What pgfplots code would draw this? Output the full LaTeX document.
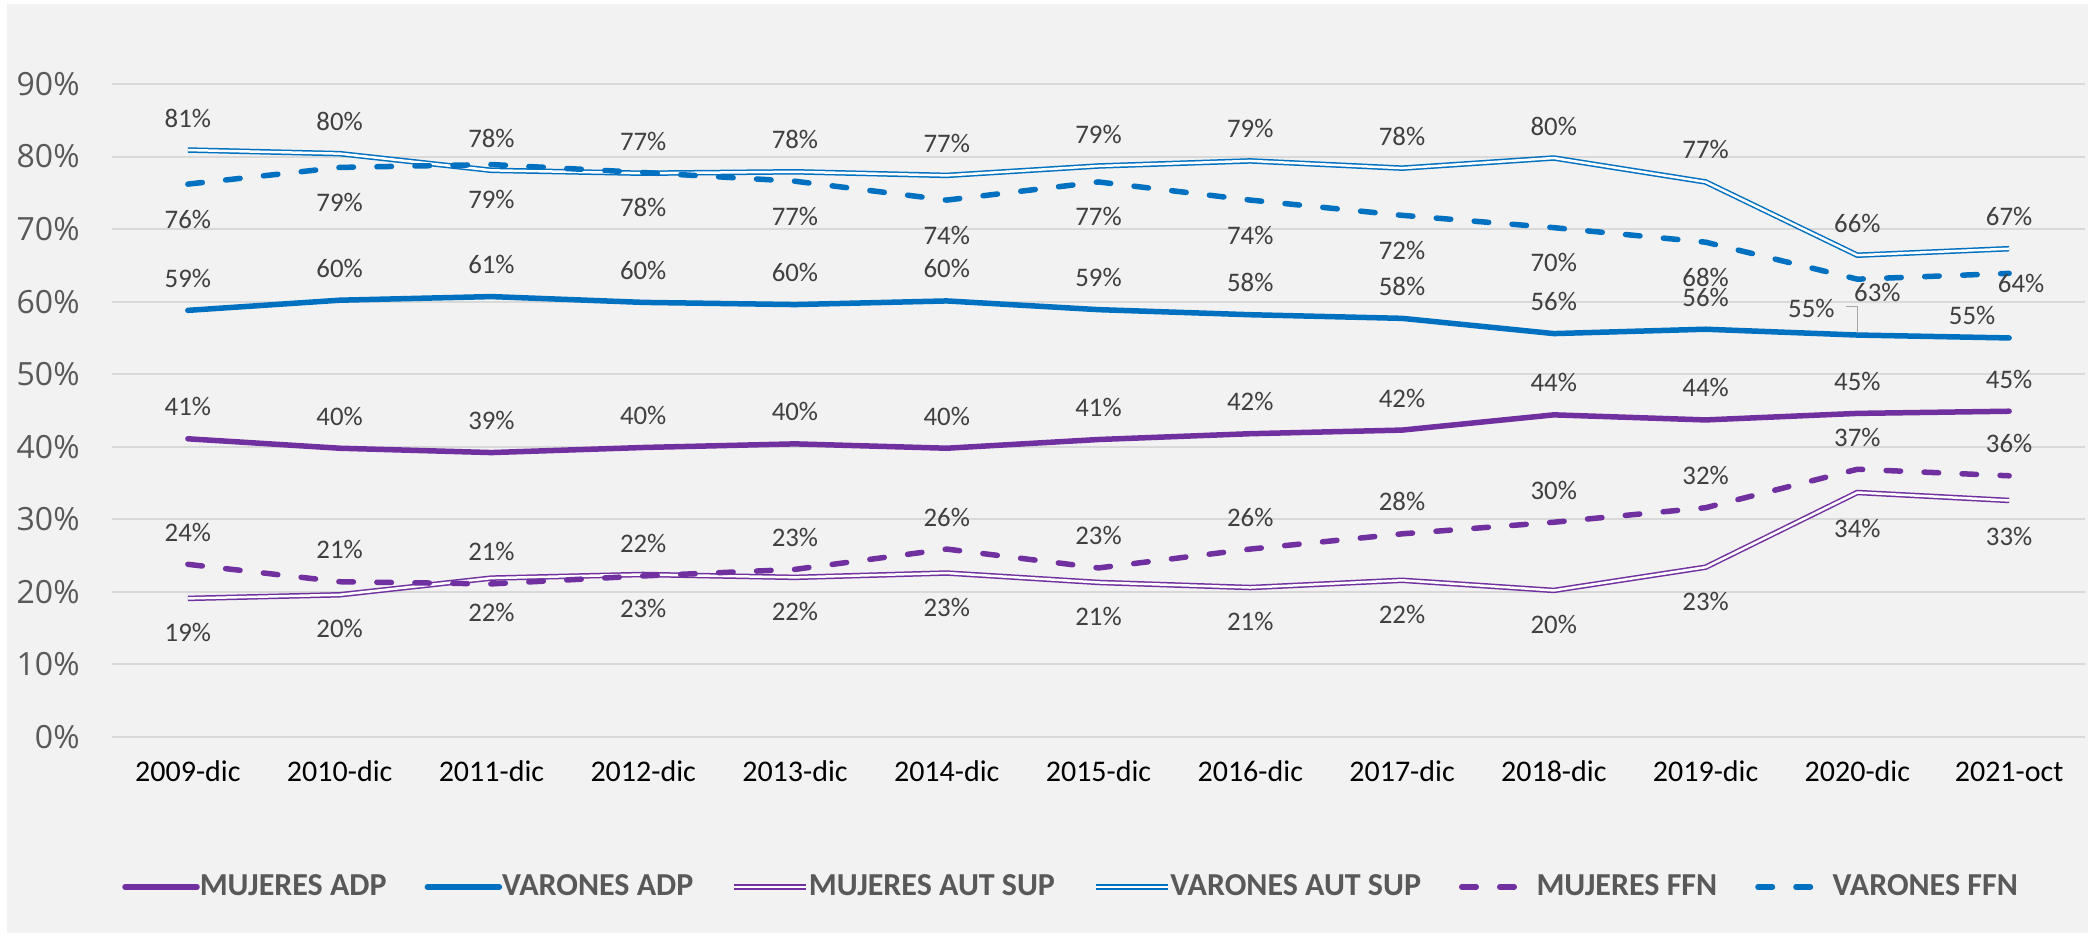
\documentclass[border=0pt]{standalone}
\usepackage{pgfplots}
\pgfplotsset{compat=1.18}
\usepackage{pgfplotstable}
\usepackage{fontspec}
\setmainfont{Carlito}
\newfontfamily\osans{Open Sans}
\definecolor{mpurple}{HTML}{7030A0}
\definecolor{mblue}{HTML}{0070C0}
\definecolor{bgc}{HTML}{F2F2F2}
\definecolor{gridc}{HTML}{D9D9D9}
\definecolor{txtg}{HTML}{595959}
\definecolor{labg}{HTML}{404040}
\definecolor{leadc}{HTML}{A6A6A6}

\pgfplotstableread{
x y lab dx dy
0 41.1 41 0 16
1 39.8 40 0 16
2 39.2 39 0 16
3 39.9 40 0 16
4 40.4 40 0 16
5 39.8 40 0 16
6 41.0 41 0 16
7 41.8 42 0 16
8 42.3 42 0 16
9 44.4 44 0 16
10 43.7 44 0 16
11 44.6 45 0 16
12 44.9 45 0 16
}\mujadp

\pgfplotstableread{
x y lab dx dy
0 58.8 59 0 16
1 60.2 60 0 16
2 60.7 61 0 16
3 59.9 60 0 16
4 59.6 60 0 16
5 60.1 60 0 16
6 58.9 59 0 16
7 58.2 58 0 16
8 57.7 58 0 16
9 55.6 56 0 16
10 56.2 56 0 16
11 55.4 55 -23 13.5
12 55.0 55 -18.5 11.3
}\varadp

\pgfplotstableread{
x y lab dx dy
0 19.1 19 0 -17
1 19.6 20 0 -17
2 21.9 22 0 -17
3 22.4 23 0 -17
4 22.0 22 0 -17
5 22.6 23 0 -17
6 21.3 21 0 -17
7 20.6 21 0 -17
8 21.6 22 0 -17
9 20.2 20 0 -17
10 23.4 23 0 -17
11 33.7 34 0 -18
12 32.6 33 0 -18
}\mujaut

\pgfplotstableread{
x y lab dx dy
0 80.9 81 0 16
1 80.4 80 0 16
2 78.1 78 0 16
3 77.7 77 0 16
4 77.9 78 0 16
5 77.4 77 0 16
6 78.7 79 0 16
7 79.4 79 0 16
8 78.4 78 0 16
9 79.8 80 0 16
10 76.5 77 0 16
11 66.4 66 0 16
12 67.3 67 0 16
}\varaut

\pgfplotstableread{
x y lab dx dy
0 23.8 24 0 16
1 21.4 21 0 16
2 21.1 21 0 16
3 22.2 22 0 16
4 23.1 23 0 16
5 25.9 26 0 16
6 23.3 23 0 16
7 25.9 26 0 16
8 28.0 28 0 16
9 29.6 30 0 16
10 31.6 32 0 16
11 36.9 37 0 16
12 36.0 36 0 16
}\mujffn

\pgfplotstableread{
x y lab dx dy
0 76.2 76 0 -17.5
1 78.5 79 0 -17.5
2 78.9 79 0 -17.5
3 77.8 78 0 -17.5
4 76.6 77 0 -17.5
5 74.0 74 0 -17.5
6 76.5 77 0 -17.5
7 74.0 74 0 -17.5
8 71.9 72 0 -17.5
9 70.2 70 0 -17.5
10 68.2 68 0 -17.5
11 63.1 63 10 -6.7
12 63.9 64 6 -5.3
}\varffn

\begin{document}
\begin{tikzpicture}
\fill[white] (0,0) rectangle (1047.5pt,469pt);
\fill[bgc] (3.5pt,2.5pt) rectangle (1044pt,467pt);
\begin{axis}[
  at={(56pt,100.5pt)}, anchor=south west,
  scale only axis, width=986.5pt, height=326.5pt,
  xmin=-0.5, xmax=12.5, ymin=0, ymax=90,
  axis line style={draw=none},
  tick style={draw=none},
  ytick={0,10,...,90},
  yticklabels={0\%,10\%,20\%,30\%,40\%,50\%,60\%,70\%,80\%,90\%},
  xtick={0,...,12},
  xticklabels={2009-dic,2010-dic,2011-dic,2012-dic,2013-dic,2014-dic,2015-dic,2016-dic,2017-dic,2018-dic,2019-dic,2020-dic,2021-oct},
  ymajorgrids,
  grid style={gridc, line width=1pt},
  yticklabel style={font=\osans\fontsize{16}{19}\selectfont, text=txtg, anchor=east, inner sep=0pt, xshift=-16pt},
  xticklabel style={font=\fontsize{15}{18}\selectfont, text=black, anchor=base, inner sep=0pt, yshift=-22pt},
  clip=false,
  legend columns=6,
  legend style={draw=none, fill=none, at={(0.4866,-0.2297)}, anchor=center,
    font=\bfseries\fontsize{16}{19}\selectfont, text=txtg,
    /tikz/every odd column/.append style={column sep=-2pt},
    /tikz/every even column/.append style={column sep=17pt}},
  legend image code/.code={\draw[#1] (0pt,0pt) -- (36pt,0pt);},
  mylab/.style={
    nodes near coords={\pgfplotspointmeta\%},
    point meta=explicit symbolic,
    visualization depends on={\thisrow{dx} \as \dx},
    visualization depends on={\thisrow{dy} \as \dy},
    every node near coord/.append style={anchor=center, inner sep=0pt,
      xshift=\dx pt, yshift=\dy pt, text=labg,
      font=\fontsize{13.4}{16}\selectfont}
  },
  line join=round,
]
\addplot[mpurple, line width=2.75pt, line cap=round, mylab] table[x=x,y=y,meta=lab]{\mujadp};
\addlegendentry{MUJERES ADP}
\addplot[mblue, line width=2.75pt, line cap=round, mylab] table[x=x,y=y,meta=lab]{\varadp};
\addlegendentry{VARONES ADP}
\addplot[mpurple, line width=0.75pt, double=white, double distance=1.25pt, mylab] table[x=x,y=y,meta=lab]{\mujaut};
\addlegendentry{MUJERES AUT SUP}
\addplot[mblue, line width=0.75pt, double=white, double distance=1.25pt, mylab] table[x=x,y=y,meta=lab]{\varaut};
\addlegendentry{VARONES AUT SUP}
\addplot[mpurple, line width=2.75pt, line cap=round, dash pattern=on 7.25pt off 11.75pt, mylab] table[x=x,y=y,meta=lab]{\mujffn};
\addlegendentry{MUJERES FFN}
\addplot[mblue, line width=2.75pt, line cap=round, dash pattern=on 7.25pt off 11.75pt, mylab] table[x=x,y=y,meta=lab]{\varffn};
\addlegendentry{VARONES FFN}
\draw[leadc, line width=0.6pt] (axis cs:11,55.7) -- ++(0pt,13pt) -- ++(-5.5pt,0pt);
\end{axis}
\end{tikzpicture}
\end{document}
